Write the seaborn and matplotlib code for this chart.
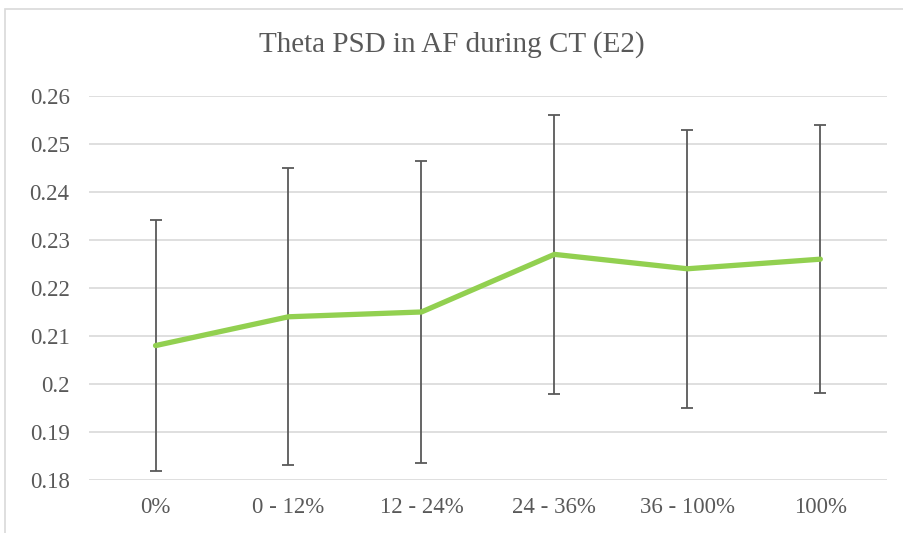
import matplotlib.pyplot as plt
import seaborn as sns
import pandas as pd
from matplotlib.patches import Rectangle

categories = ['0%', '0 - 12%', '12 - 24%', '24 - 36%', '36 - 100%', '100%']
theta_psd = [0.208, 0.214, 0.215, 0.227, 0.224, 0.226]
err_upper = [0.0262, 0.0309, 0.0315, 0.0290, 0.0289, 0.0279]
err_lower = [0.0262, 0.0309, 0.0315, 0.0290, 0.0289, 0.0279]
y_ticks = [0.18, 0.19, 0.2, 0.21, 0.22, 0.23, 0.24, 0.25, 0.26]
y_tick_labels = ['0.18', '0.19', '0.2', '0.21', '0.22', '0.23', '0.24', '0.25', '0.26']

df = pd.DataFrame({'cat': categories, 'psd': theta_psd})

sns.set_style('white')
plt.rcParams['font.family'] = ['Liberation Serif', 'DejaVu Serif']
text_col = '#595959'

fig = plt.figure(figsize=(9.04, 5.33), dpi=100)
ax = fig.add_axes([0.0985, 0.0994, 0.8825, 0.7206])

# chart frame like the spreadsheet chart area
fig.patches.append(Rectangle((5 / 904, -0.05), 1.0, 1 - 9 / 533 + 0.05,
                             transform=fig.transFigure, fill=False,
                             edgecolor='#D9D9D9', linewidth=1.2))

ax.errorbar(range(len(categories)), theta_psd, yerr=[err_lower, err_upper],
            fmt='none', ecolor='#595959', elinewidth=1.3, capsize=4.3,
            capthick=1.3, zorder=2)
sns.lineplot(x=range(len(categories)), y=df['psd'], color='#92D050',
             linewidth=3.8, ax=ax, zorder=3)

ax.set_xlim(-0.5, len(categories) - 0.5)
ax.set_ylim(0.18, 0.26)
ax.set_yticks(y_ticks)
ax.set_yticklabels(y_tick_labels)
ax.set_xticks(range(len(categories)))
ax.set_xticklabels(categories)
ax.set_xlabel('')
ax.set_ylabel('')
ax.grid(True, axis='y', color='#D9D9D9', linewidth=1.2)
ax.set_axisbelow(True)
for s in ax.spines.values():
    s.set_visible(False)
ax.tick_params(axis='both', length=0, labelsize=16.5, colors=text_col)
ax.tick_params(axis='y', pad=14)
ax.tick_params(axis='x', pad=12)

fig.text(0.5, 0.917, 'Theta PSD in AF during CT (E2)', ha='center', va='center',
         fontsize=21, color=text_col)

plt.savefig('out.png', dpi=100)
